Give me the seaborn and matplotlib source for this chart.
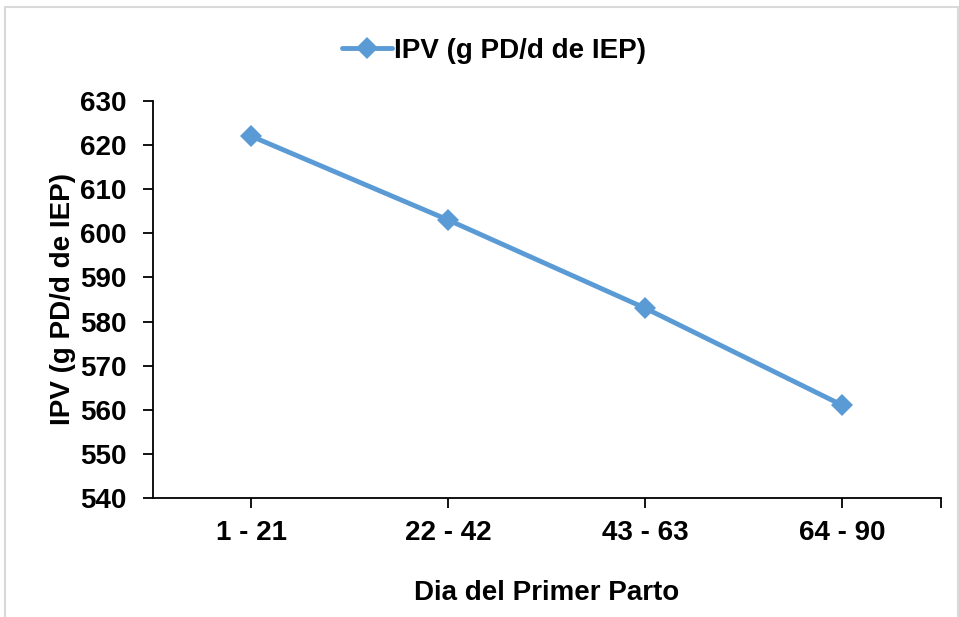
import pandas as pd
from matplotlib import pyplot as plt
from matplotlib.patches import Rectangle
import seaborn as sbn

# data
dias = ["1 - 21", "22 - 42", "43 - 63", "64 - 90"]
ipv = [622, 603, 583, 561]
serie = "IPV (g PD/d de IEP)"

sbn.set_style("white")
plt.rcParams['font.family'] = ['Liberation Sans', 'DejaVu Sans']
plt.rcParams['font.weight'] = 'bold'
plt.rcParams['text.color'] = 'black'
plt.rcParams['axes.labelcolor'] = 'black'
plt.rcParams['xtick.color'] = 'black'
plt.rcParams['ytick.color'] = 'black'

fs = 20

df = pd.DataFrame({"dia": dias, "ipv": ipv})

fig = plt.figure(figsize=(9.59, 6.17), dpi=100)
ax = fig.add_axes([0.1595, 0.1929, 0.8217, 0.6434])

sbn.lineplot(data=df, x="dia", y="ipv", ax=ax, color="#5B9BD5", linewidth=3.5,
             marker="D", markersize=11, markeredgewidth=0, label=serie, legend=False)

ax.set_xlim(-0.5, 3.5)
ax.set_ylim(540, 630)
ax.set_yticks(range(540, 631, 10))
ax.set_xticks([0, 1, 2, 3, 3.5])
ax.set_xticklabels(dias + [""])

for s in ["top", "right"]:
    ax.spines[s].set_visible(False)
for s in ["left", "bottom"]:
    ax.spines[s].set_color("black")
    ax.spines[s].set_linewidth(1.3)

ax.tick_params(axis="both", direction="out", length=7, width=1.3, color="black",
               labelsize=fs, left=True, bottom=True, labelcolor="black")
ax.tick_params(axis="x", pad=9)
ax.tick_params(axis="y", pad=12)
for lab in ax.get_xticklabels() + ax.get_yticklabels():
    lab.set_fontweight("bold")

ax.set_xlabel("Dia del Primer Parto", fontsize=fs, fontweight="bold", labelpad=24)
ax.set_ylabel(serie, fontsize=fs, fontweight="bold", labelpad=3)

handles, labels = ax.get_legend_handles_labels()
fig.legend(handles, labels, loc="center", bbox_to_anchor=(0.515, 0.918), frameon=False,
           prop={"size": fs, "weight": "bold"}, handlelength=1.8, handletextpad=0.05)

# light grey chart-area border like the Excel export
fig.patches.append(Rectangle((5 / 959, -0.01), 953 / 959, 1 - 7 / 617 + 0.01,
                             transform=fig.transFigure, fill=False,
                             edgecolor="#D9D9D9", linewidth=1.5))

plt.savefig("out.png", dpi=100)
